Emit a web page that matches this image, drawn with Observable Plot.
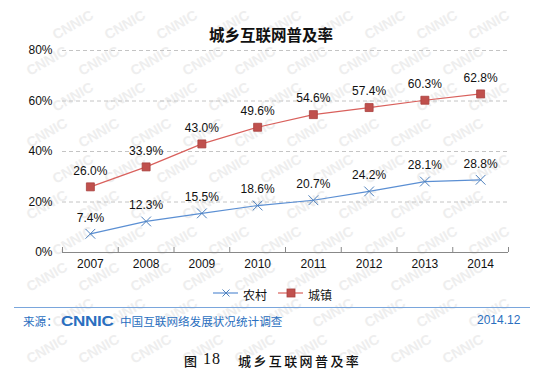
<!DOCTYPE html>
<html><head><meta charset="utf-8">
<script src="https://cdn.jsdelivr.net/npm/d3@7"></script>
<script src="https://cdn.jsdelivr.net/npm/@observablehq/plot@0.6"></script>
<style>
body{margin:0;background:#fff;}
#wrap{position:relative;width:550px;height:378px;overflow:hidden;font-family:"Liberation Sans",Arial,sans-serif;background:#fff;}
.abs{position:absolute;white-space:nowrap;line-height:1;}
#wm{left:0;top:0;}
#plot{left:0;top:0;}
#title{left:0;width:542px;top:23px;text-align:center;font:bold 15.5px "Noto Sans CJK SC",sans-serif;color:#111;}
.lgt{font:12px "Noto Sans CJK SC",sans-serif;color:#111;top:286px;}
#rule{left:14px;width:516px;top:307px;height:0;border-top:1.5px solid #7aa6dc;}
.src{color:#2a6fc0;top:313px;font:11.6px "Noto Sans CJK SC",sans-serif;}
#logo{left:61px;top:312px;color:#2a6fc0;font:bold 15px "Liberation Sans",Arial,sans-serif;transform:scale(1.14,0.95);transform-origin:left center;letter-spacing:-0.3px;}
#date{left:477px;top:313px;color:#2a6fc0;font:12px "Liberation Sans",Arial,sans-serif;}
.cap{top:351px;font:500 13px "Noto Sans CJK SC",sans-serif;color:#111;}
#cap18{left:203px;top:350px;font:16px "Liberation Serif",serif;color:#111;letter-spacing:1px;}
</style></head>
<body><div id="wrap">
<svg id="wm" class="abs" width="550" height="378"></svg>
<div id="plot" class="abs"></div>
<div id="title" class="abs">城乡互联网普及率</div>
<svg class="abs" style="left:213px;top:287px" width="26" height="12"><line x1="0" y1="6" x2="25" y2="6" stroke="#5b8fd3" stroke-width="1.2"/><path d="M9.5,2.5L16.5,9.5M16.5,2.5L9.5,9.5" stroke="#4f81bd" stroke-width="1"/></svg>
<div class="abs lgt" id="lg1" style="left:243px"></div>
<svg class="abs" style="left:278px;top:287px" width="26" height="12"><line x1="0" y1="6" x2="25" y2="6" stroke="#d9605c" stroke-width="1.2"/><rect x="9" y="2" width="8" height="8" fill="#c0504d" stroke="#a8403d" stroke-width="0.8"/></svg>
<div class="abs lgt" id="lg2" style="left:308px"></div>
<div id="rule" class="abs"></div>
<div class="abs src" style="left:23px">来源：</div>
<div id="logo" class="abs">CNNIC</div>
<div class="abs src" style="left:120px">中国互联网络发展状况统计调查</div>
<div id="date" class="abs">2014.12</div>
<div class="abs cap" style="left:184px">图</div>
<div id="cap18" class="abs">18</div>
<div class="abs cap" style="left:238px;letter-spacing:2.4px">城乡互联网普及率</div>
</div>
<script>
const years = [2007, 2008, 2009, 2010, 2011, 2012, 2013, 2014];
const rural = [7.4, 12.3, 15.5, 18.6, 20.7, 24.2, 28.1, 28.8];
const urban = [26.0, 33.9, 43.0, 49.6, 54.6, 57.4, 60.3, 62.8];
const seriesNames = ["农村", "城镇"];
const yTicks = [0, 20, 40, 60, 80];
const watermark = "CNNIC";

document.getElementById("lg1").textContent = seriesNames[0];
document.getElementById("lg2").textContent = seriesNames[1];

// faint background watermark, kept well inside the canvas
const wm = d3.select("#wm");
for (let row = 0; row < 12; row++) {
  for (let col = -1; col < 12; col++) {
    const x = col * 52 + (row % 2 ? 26 : 0) + 4;
    const y = row * 36 + 40;
    if (x < 12 || x + 50 > 545 || y - 34 < 4 || y + 8 > 374) continue;
    wm.append("text").attr("x", x).attr("y", y)
      .attr("transform", `rotate(-30,${x},${y})`)
      .attr("font-family", "Liberation Sans, Arial, sans-serif")
      .attr("font-weight", "bold").attr("font-size", 14)
      .attr("fill", "#eeeeee").text(watermark);
  }
}

const blue = "#4f81bd", red = "#c0504d";
const ruralData = years.map((y, i) => ({year: y, v: rural[i]}));
const urbanData = years.map((y, i) => ({year: y, v: urban[i]}));
const bounds = years.map(y => y - 0.5).concat([years[years.length - 1] + 0.5]);

const chart = Plot.plot({
  width: 550, height: 280,
  marginLeft: 62, marginRight: 42, marginTop: 50, marginBottom: 28,
  style: {fontFamily: "'Liberation Sans', Arial, sans-serif", fontSize: "12px", color: "#111", background: "transparent"},
  x: {domain: [bounds[0], bounds[bounds.length - 1]], label: null},
  y: {domain: [0, 80], label: null},
  marks: [
    Plot.gridY(yTicks.slice(1), {stroke: "#c4c4c4", strokeOpacity: 1, strokeDasharray: "4,3"}),
    Plot.axisY(yTicks, {tickSize: 0, tickPadding: 10, tickFormat: d => d + "%", fontSize: 12, label: null}),
    Plot.ruleY([0], {stroke: "#888"}),
    Plot.axisX(bounds, {tickSize: 5, dy: -5, tickFormat: () => "", stroke: "#888", label: null}),
    Plot.axisX(years, {tickSize: 0, tickPadding: 7, tickFormat: d => String(d), fontSize: 12, label: null}),
    Plot.line(urbanData, {x: "year", y: "v", stroke: "#d9605c", strokeWidth: 1.2}),
    Plot.dot(urbanData, {x: "year", y: "v", symbol: "square", r: 4.5, fill: red, stroke: "#a8403d", strokeWidth: 0.8}),
    Plot.line(ruralData, {x: "year", y: "v", stroke: "#5b8fd3", strokeWidth: 1.2}),
    Plot.dot(ruralData, {x: "year", y: "v", symbol: "times", r: 4.5, stroke: blue, strokeWidth: 1}),
    Plot.text(urbanData, {x: "year", y: "v", text: d => d.v.toFixed(1) + "%", dy: -16, fontSize: 12, fill: "#111"}),
    Plot.text(ruralData, {x: "year", y: "v", text: d => d.v.toFixed(1) + "%", dy: -16, fontSize: 12, fill: "#111"})
  ]
});
document.getElementById("plot").appendChild(chart);
</script>
</body></html>
